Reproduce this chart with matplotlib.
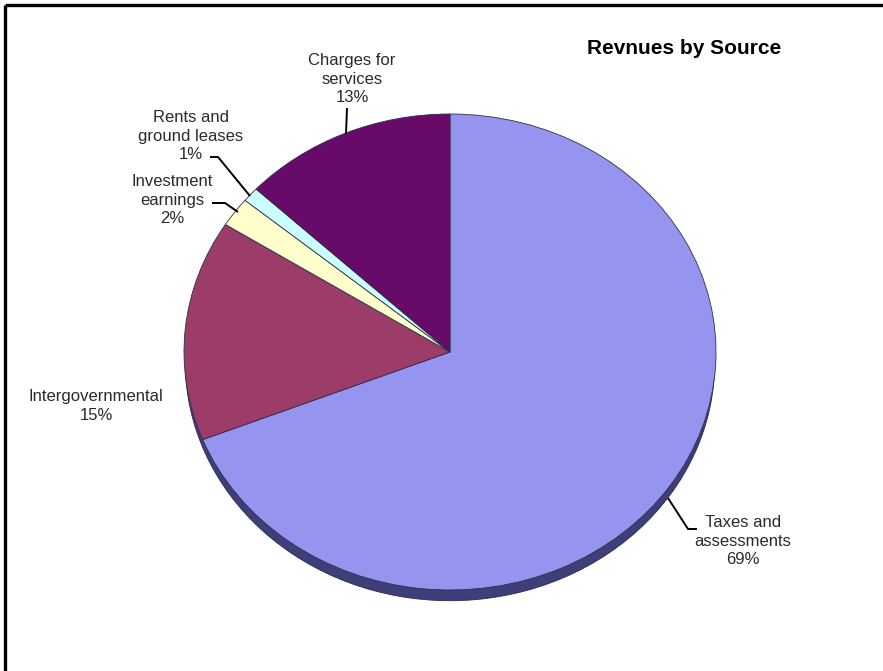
import matplotlib
matplotlib.use('Agg')
import matplotlib.pyplot as plt
from matplotlib.patches import Ellipse

plt.rcParams['font.family'] = ['Liberation Sans', 'DejaVu Sans']

# data
sources = ['Taxes and\nassessments', 'Intergovernmental', 'Investment\nearnings',
           'Rents and\nground leases', 'Charges for\nservices']
shares = [69, 15, 2, 1, 13]
colors = ['#9595EF', '#9C3C68', '#FFFFCC', '#CCFFFF', '#680A68']

# label anchor (pixel) and leader line points (pixel)
label_xy = [(743, 541), (96, 406), (172, 200), (191, 136), (352, 79)]
leaders = [
    [(668, 498), (688, 529), (697, 529)],
    None,
    [(212, 203), (225, 203), (238, 212)],
    [(210, 157), (218, 157), (250, 196)],
    [(347, 108), (346, 134)],
]

W, H = 883, 671
fig = plt.figure(figsize=(W / 100, H / 100), dpi=100)
fig.patch.set_facecolor('white')

# pie face occupies x 184..716, y 114..590 (pixels from top)
px0, px1, py0, py1 = 184, 716, 114, 590
pax = fig.add_axes([px0 / W, 1 - py1 / H, (px1 - px0) / W, (py1 - py0) / H])
shadow = Ellipse((0, -0.045), 1.99, 2.0, facecolor='#3E3E78', edgecolor='#2A2A55',
                 linewidth=0.6, clip_on=False, zorder=0)
pax.add_patch(shadow)
wedges, _ = pax.pie(shares, colors=colors, startangle=90, counterclock=False,
                    wedgeprops=dict(edgecolor='#2E2E4E', linewidth=0.6))
for w in wedges:
    w.set_clip_on(False)
    w.set_zorder(1)
pax.set_aspect('auto')
pax.set_xlim(-1, 1)
pax.set_ylim(-1, 1)
pax.axis('off')

# overlay in pixel coordinates for labels
ax = fig.add_axes([0, 0, 1, 1], facecolor='none')
ax.set_xlim(0, W)
ax.set_ylim(H, 0)
ax.axis('off')

for name, val, (x, y), pts in zip(sources, shares, label_xy, leaders):
    ax.text(x, y, f'{name}\n{val}%', ha='center', va='center', fontsize=12,
            color='#2a2a2a', linespacing=1.32)
    if pts:
        xs, ys = zip(*pts)
        ax.plot(xs, ys, color='black', linewidth=1.4, solid_capstyle='butt')

ax.text(684, 48, 'Revnues by Source', ha='center', va='center', fontsize=15,
        fontweight='bold', color='black')

# frame lines (top and left)
ax.plot([4.5, W], [4.5, 4.5], color='black', linewidth=2.4, solid_capstyle='butt')
ax.plot([4.5, 4.5], [4.5, H], color='black', linewidth=2.4, solid_capstyle='butt')

fig.savefig('out.png', dpi=100)
